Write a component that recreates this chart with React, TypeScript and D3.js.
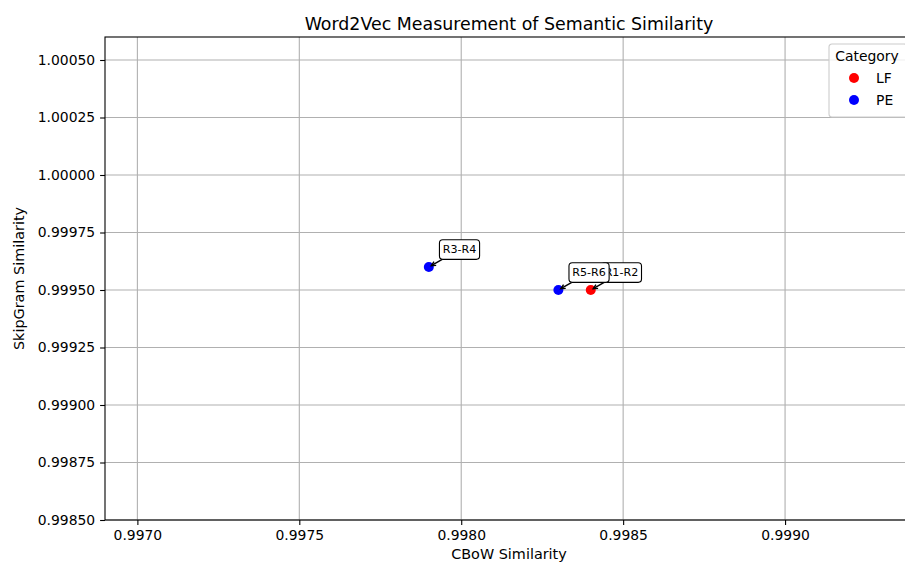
import React, { useRef, useEffect } from 'react';
import * as d3 from 'd3';

// data
const pairLabels = ['R1-R2', 'R3-R4', 'R5-R6'];
const cbowSim = [0.9984, 0.9979, 0.9983];
const skipGramSim = [0.9995, 0.9996, 0.9995];
const pairCategory = ['LF', 'PE', 'PE'];

const categories = ['LF', 'PE'];
const categoryColors = ['red', 'blue'];

const xTicks = [0.997, 0.9975, 0.998, 0.9985, 0.999];
const yTicks = [0.9985, 0.99875, 0.999, 0.99925, 0.9995, 0.99975, 1.0, 1.00025, 1.0005];

const FONT = '"DejaVu Sans", sans-serif';

function App() {
  const chartRef = useRef<SVGSVGElement>(null);

  useEffect(() => {
    const width = 905;
    const height = 562;
    const margin = { top: 37, left: 105, bottom: 520, right: 914.6 };

    const svg = d3.select(chartRef.current)
      .attr('width', width)
      .attr('height', height)
      .style('font-family', FONT);
    svg.selectAll('*').remove();

    svg.append('rect').attr('width', width).attr('height', height).attr('fill', 'white');

    const xScale = d3.scaleLinear().domain([0.9969, 0.9994]).range([margin.left, margin.right]);
    const yScale = d3.scaleLinear().domain([0.9985, 1.0006]).range([margin.bottom, margin.top]);
    const color = d3.scaleOrdinal<string, string>().domain(categories).range(categoryColors);

    // grid
    const grid = svg.append('g').attr('stroke', '#b0b0b0').attr('stroke-width', 1.1);
    grid.selectAll('.gx').data(xTicks).enter().append('line')
      .attr('x1', d => xScale(d)).attr('x2', d => xScale(d))
      .attr('y1', margin.top).attr('y2', margin.bottom);
    grid.selectAll('.gy').data(yTicks).enter().append('line')
      .attr('x1', margin.left).attr('x2', margin.right)
      .attr('y1', d => yScale(d)).attr('y2', d => yScale(d));

    // axes
    const xAxis = d3.axisBottom(xScale).tickValues(xTicks).tickFormat(d3.format('.4f'))
      .tickSizeInner(4.9).tickSizeOuter(0).tickPadding(4.9);
    const yAxis = d3.axisLeft(yScale).tickValues(yTicks).tickFormat(d3.format('.5f'))
      .tickSizeInner(4.9).tickSizeOuter(0).tickPadding(4.9);

    const gx = svg.append('g').attr('transform', `translate(0,${margin.bottom})`).call(xAxis);
    const gy = svg.append('g').attr('transform', `translate(${margin.left},0)`).call(yAxis);
    [gx, gy].forEach(g => {
      g.select('.domain').remove();
      g.selectAll('text').attr('font-family', FONT).attr('font-size', 13.9).attr('fill', '#000');
      g.selectAll('line').attr('stroke', '#000').attr('stroke-width', 1.1);
    });

    // spines
    svg.append('rect')
      .attr('x', margin.left).attr('y', margin.top)
      .attr('width', margin.right - margin.left).attr('height', margin.bottom - margin.top)
      .attr('fill', 'none').attr('stroke', '#000').attr('stroke-width', 1.1);

    // points
    const data = pairLabels.map((label, i) => ({
      label, x: cbowSim[i], y: skipGramSim[i], cat: pairCategory[i],
    }));
    svg.selectAll('.pt').data(data).enter().append('circle')
      .attr('cx', d => xScale(d.x)).attr('cy', d => yScale(d.y))
      .attr('r', 5).attr('fill', d => color(d.cat));

    // annotations with rounded boxes and "->" arrows
    const off = 13.9;
    const pad = 3.3;
    data.forEach(d => {
      const px = xScale(d.x);
      const py = yScale(d.y);
      const g = svg.append('g');
      const arrowG = g.append('g');
      const rect = g.append('rect');
      const text = g.append('text')
        .attr('x', px + off).attr('y', py - off)
        .attr('font-size', 11.1).attr('fill', '#000')
        .text(d.label);
      const bb = (text.node() as SVGTextElement).getBBox();
      const bx = bb.x - pad, by = bb.y - pad, bw = bb.width + 2 * pad, bh = bb.height + 2 * pad;
      rect.attr('x', bx).attr('y', by).attr('width', bw).attr('height', bh)
        .attr('rx', pad).attr('fill', 'white').attr('stroke', '#000').attr('stroke-width', 1.1);

      const cx = bx + bw / 2, cy = by + bh / 2;
      const dx = px - cx, dy = py - cy;
      const t = Math.min(Math.abs((bw / 2) / dx), Math.abs((bh / 2) / dy));
      const sx = cx + dx * t, sy = cy + dy * t;
      const len = Math.hypot(dx, dy);
      const ux = dx / len, uy = dy / len;
      const ex = px - ux * 2.8, ey = py - uy * 2.8;
      const hl = 4.4, hw = 2.2;
      arrowG.append('line').attr('x1', sx).attr('y1', sy).attr('x2', ex).attr('y2', ey)
        .attr('stroke', '#000').attr('stroke-width', 1.4);
      arrowG.append('path')
        .attr('d', `M${ex - ux * hl - uy * hw},${ey - uy * hl + ux * hw}L${ex},${ey}L${ex - ux * hl + uy * hw},${ey - uy * hl - ux * hw}`)
        .attr('fill', 'none').attr('stroke', '#000').attr('stroke-width', 1.4);
    });

    // title and labels
    svg.append('text')
      .attr('x', 509).attr('y', 29.5)
      .attr('text-anchor', 'middle').attr('font-size', 17.4).attr('fill', '#000')
      .text('Word2Vec Measurement of Semantic Similarity');
    svg.append('text')
      .attr('x', 509).attr('y', 558.5)
      .attr('text-anchor', 'middle').attr('font-size', 14.4).attr('fill', '#000')
      .text('CBoW Similarity');
    svg.append('text')
      .attr('transform', `translate(23.5,${(margin.top + margin.bottom) / 2}) rotate(-90)`)
      .attr('text-anchor', 'middle').attr('font-size', 14.4).attr('fill', '#000')
      .text('SkipGram Similarity');

    // legend
    const lg = svg.append('g').attr('transform', 'translate(829,44)');
    lg.append('rect').attr('width', 78).attr('height', 73).attr('rx', 3)
      .attr('fill', 'white').attr('fill-opacity', 0.8)
      .attr('stroke', '#cccccc').attr('stroke-width', 1.1);
    lg.append('text').attr('x', 38).attr('y', 17).attr('text-anchor', 'middle')
      .attr('font-size', 13.9).attr('fill', '#000').text('Category');
    categories.forEach((c, i) => {
      lg.append('circle').attr('cx', 25).attr('cy', 34 + i * 22).attr('r', 5).attr('fill', color(c));
      lg.append('text').attr('x', 47).attr('y', 34 + i * 22 + 5)
        .attr('font-size', 13.9).attr('fill', '#000').text(c);
    });
  }, []);

  return <svg ref={chartRef} style={{ position: 'absolute', left: 0, top: 0, display: 'block' }}></svg>;
}

export default App;
